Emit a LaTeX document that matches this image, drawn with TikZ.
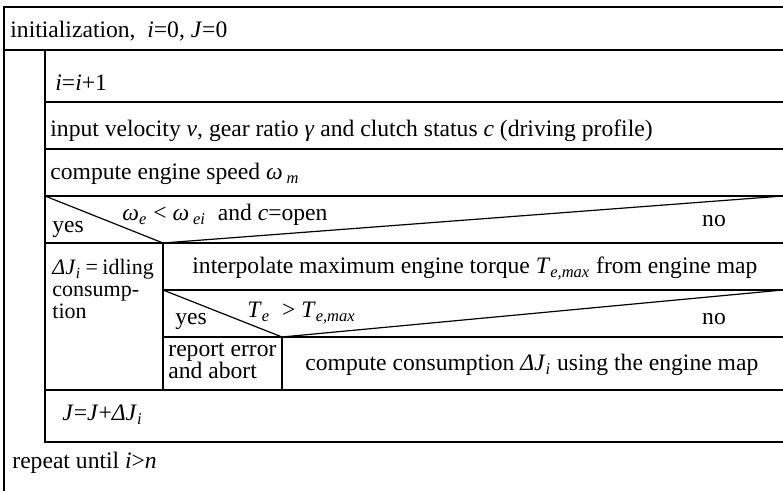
\documentclass[tikz,border=0pt]{standalone}
\usepackage{fontspec}
\setmainfont{Liberation Serif}
\newcommand{\vi}[1]{\textit{#1}}
\newcommand{\sbi}[1]{\textsubscript{\textit{#1}}}

\begin{document}
\begin{tikzpicture}[
    x=0.5pt, y=-0.5pt,
    every node/.style={font=\fontsize{11.8}{13}\selectfont, inner sep=0pt},
    rule/.style={line width=0.6pt},
    txt/.style={anchor=base west},
    ans/.style={anchor=base}
]
    \useasboundingbox (0,0) rectangle (783,491);

    % outer loop frame
    \draw[rule] (783,7) -- (4,7) -- (4,491);
    \draw[rule] (4,50) -- (783,50);

    % inner block
    \draw[rule] (45,50) -- (45,442) -- (783,442);
    \foreach \yy in {102,149,196,243,390}
        \draw[rule] (45,\yy) -- (783,\yy);

    % first decision
    \draw[rule] (45,196) -- (163,243) -- (783,196);
    \draw[rule] (163,243) -- (163,390);
    \draw[rule] (163,290) -- (783,290);

    % second decision
    \draw[rule] (163,290) -- (282,337) -- (783,290);
    \draw[rule] (163,337) -- (783,337);
    \draw[rule] (282,337) -- (282,390);

    % texts
    \node[txt] (init) at (10,38) {initialization,\ \ \vi{i}=0, \vi{J}=0};
    \node[txt] (inc) at (55,91) {\vi{i}=\vi{i}+1};
    \node[txt] (input) at (50,137) {input velocity \vi{v}, gear ratio \vi{γ} and clutch status \vi{c} (driving profile)};
    \node[txt] (speed) at (50,180) {compute engine speed \vi{ω}\,\sbi{m}};

    \node[txt] (yesa) at (52,233) {yes};
    \node[txt] (conda) at (122,221) {\vi{ω}\sbi{e} < \vi{ω}\,\sbi{ei}\ \ and \vi{c}=open};
    \node[ans] (noa) at (714,227) {no};

    \node[txt, font=\fontsize{11}{12}\selectfont] (idlea) at (52,275) {\vi{ΔJ}\sbi{i}\hspace{0.2em}=\hspace{0.2em}idling};
    \node[txt, font=\fontsize{11}{12}\selectfont] (idleb) at (52,297) {consump-};
    \node[txt, font=\fontsize{11}{12}\selectfont] (idlec) at (52,319) {tion};

    \node[txt] (interp) at (192,274) {interpolate maximum engine torque \vi{T}\sbi{e,max} from engine map};

    \node[txt] (yesb) at (175,325) {yes};
    \node[txt] (condb) at (247,318) {\vi{T}\sbi{e}\ \ > \vi{T}\sbi{e,max}};
    \node[ans] (nob) at (714,325) {no};

    \node[txt] (errora) at (168,357) {report error};
    \node[txt] (errorb) at (168,379) {and abort};
    \node[txt] (cons) at (305,371) {compute consumption \vi{ΔJ}\sbi{i} using the engine map};

    \node[txt] (accum) at (62,421) {\vi{J}=\vi{J}+\vi{ΔJ}\sbi{i}};
    \node[txt] (until) at (12,469) {repeat until \vi{i}>\vi{n}};

\end{tikzpicture}
\end{document}
